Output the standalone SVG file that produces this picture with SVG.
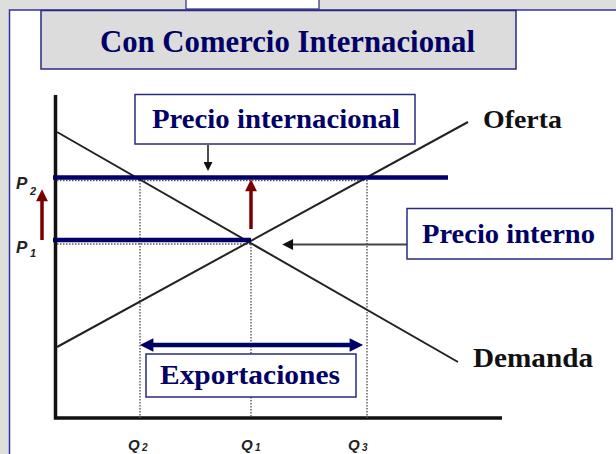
<svg xmlns="http://www.w3.org/2000/svg" width="616" height="454" viewBox="0 0 616 454">
<defs>
<style>
.lbl{font-family:"Liberation Serif","Times New Roman",serif;font-weight:bold;fill:#000066}
.blk{font-family:"Liberation Serif","Times New Roman",serif;font-weight:bold;fill:#111}
.ax{font-family:"Liberation Sans",Arial,sans-serif;font-weight:bold;font-style:italic;fill:#222}
.box{fill:#fff;stroke:#2a2a80;stroke-width:1.5}
.dot{stroke:#555;stroke-width:1.4;stroke-dasharray:1.5 1.5;fill:none}
.curve{stroke:#222;stroke-width:2;fill:none}
.navy{stroke:#000066;stroke-width:4.5;fill:none}
.red{stroke:#7a0000;stroke-width:3.5;fill:none}
</style>
<marker id="redHead" viewBox="0 0 10 10" refX="1" refY="5" markerWidth="3.6" markerHeight="3.4" orient="auto" markerUnits="strokeWidth">
<path d="M0,0 L10,5 L0,10 Z" fill="#7a0000"/>
</marker>
<marker id="navyHead" viewBox="0 0 10 10" refX="1" refY="5" markerWidth="3.6" markerHeight="3" orient="auto-start-reverse" markerUnits="strokeWidth">
<path d="M0,0 L10,5 L0,10 Z" fill="#000066"/>
</marker>
<marker id="blkHead" viewBox="0 0 10 10" refX="1" refY="5" markerWidth="7" markerHeight="6" orient="auto" markerUnits="strokeWidth">
<path d="M0,0 L10,5 L0,10 Z" fill="#111"/>
</marker>
</defs>
<rect x="0" y="0" width="616" height="454" fill="#dedede"/>
<rect x="186" y="-2" width="133" height="11" fill="#fff" stroke="#2a2a80" stroke-width="1.2"/>
<rect x="9.5" y="10" width="620" height="460" fill="#fff" stroke="#333399" stroke-width="1.5"/>
<g id="title">
<rect x="41" y="10.5" width="475" height="58.5" fill="#dcdcdc" stroke="#2a2a80" stroke-width="1.5"/>
<text class="lbl" x="100" y="52" font-size="32" textLength="375" lengthAdjust="spacingAndGlyphs">Con Comercio Internacional</text>
</g>
<g id="axes">
<path d="M55.5,95 L55.5,418 L502,418" stroke="#111" stroke-width="3.5" fill="none"/>
<text class="ax" x="16" y="189" font-size="17">P</text>
<text class="ax" x="30" y="195" font-size="11">2</text>
<text class="ax" x="16" y="253" font-size="17">P</text>
<text class="ax" x="30" y="257" font-size="11">1</text>
<text class="ax" x="128" y="450" font-size="15">Q</text>
<text class="ax" x="142" y="451" font-size="10">2</text>
<text class="ax" x="241" y="450" font-size="15">Q</text>
<text class="ax" x="255" y="451" font-size="10">1</text>
<text class="ax" x="348" y="450" font-size="15">Q</text>
<text class="ax" x="362" y="451" font-size="10">3</text>
</g>
<g id="guides">
<path class="dot" d="M57,180.5 H367 M57,244 H251 M140,180 V418 M251,244 V418 M367,180 V418"/>
</g>
<g id="demand">
<path class="curve" d="M57,132 L458,362"/>
<text class="blk" x="473" y="367" font-size="27" textLength="120" lengthAdjust="spacingAndGlyphs">Demanda</text>
</g>
<g id="supply">
<path class="curve" d="M57,347 L468,122"/>
<text class="blk" x="483" y="128" font-size="26" textLength="79" lengthAdjust="spacingAndGlyphs">Oferta</text>
</g>
<g id="connectors">
<path class="navy" d="M53,177.5 H448"/>
<path class="navy" d="M53,240 H251"/>
<path class="red" d="M42,240 V200" marker-end="url(#redHead)"/>
<path class="red" d="M251,229 V190" marker-end="url(#redHead)"/>
<path d="M208,145 V163" stroke="#111" stroke-width="1.5" marker-end="url(#blkHead)"/>
<path d="M407,244.5 H292" stroke="#444" stroke-width="1.8" marker-end="url(#blkHead)"/>
<path class="navy" d="M152,345 H351" marker-start="url(#navyHead)" marker-end="url(#navyHead)"/>
</g>
<g id="precio-internacional">
<rect class="box" x="135" y="94.5" width="280" height="49.5"/>
<text class="lbl" x="152" y="128" font-size="27" textLength="248" lengthAdjust="spacingAndGlyphs">Precio internacional</text>
</g>
<g id="precio-interno">
<rect class="box" x="407" y="208.5" width="205" height="50.5"/>
<text class="lbl" x="422" y="243" font-size="27" textLength="173" lengthAdjust="spacingAndGlyphs">Precio interno</text>
</g>
<g id="exportaciones">
<rect class="box" x="146" y="354" width="210" height="43"/>
<text class="lbl" x="160" y="384" font-size="27" textLength="180" lengthAdjust="spacingAndGlyphs">Exportaciones</text>
</g>
</svg>
